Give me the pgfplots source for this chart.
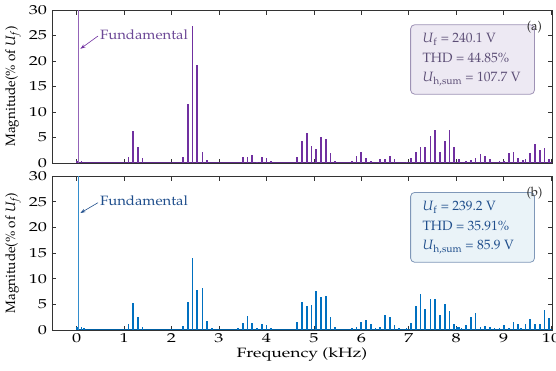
\documentclass[border=0pt]{standalone}
\usepackage[T1]{fontenc}
\usepackage{mathpazo}
\usepackage{pgfplots}
\usepackage{pgfplotstable}
\pgfplotsset{compat=1.18}
\usetikzlibrary{arrows.meta}
\definecolor{pur}{RGB}{112,48,160}
\definecolor{purtxt}{RGB}{108,72,150}
\definecolor{purbox}{RGB}{92,78,118}
\definecolor{purfill}{RGB}{237,233,243}
\definecolor{purdraw}{RGB}{158,146,181}
\definecolor{blu}{RGB}{0,112,192}
\definecolor{blutxt}{RGB}{31,78,140}
\definecolor{blufill}{RGB}{234,243,248}
\definecolor{bludraw}{RGB}{127,151,184}

\pgfplotstableread{
f v
0.00 0.4
0.10 0.3
1.09 1.1
1.19 6.2
1.29 3.2
1.39 0.9
2.24 1.2
2.34 11.6
2.44 26.9
2.54 19.3
2.65 2.2
2.75 0.6
3.50 1.1
3.60 1.1
3.70 1.6
3.80 0.2
3.90 1.2
4.00 1.0
4.10 0.3
4.65 1.1
4.75 4.25
4.85 5.8
4.95 3.35
5.05 2.65
5.15 5.15
5.25 4.75
5.35 1.95
5.45 0.4
5.80 0.4
5.90 1.4
6.00 2.1
6.10 1.05
6.20 0.4
6.40 0.8
6.50 0.7
6.60 1.4
6.70 0.7
6.95 0.2
7.05 1.0
7.15 2.2
7.25 3.1
7.35 3.1
7.46 5.3
7.56 6.5
7.66 2.2
7.76 4.25
7.86 6.5
7.96 3.1
8.06 0.7
8.21 0.3
8.31 0.6
8.41 1.05
8.51 1.75
8.61 1.4
8.71 0.7
8.91 0.4
9.01 0.4
9.11 1.9
9.21 2.1
9.31 1.0
9.41 0.5
9.46 0.7
9.56 2.0
9.66 3.7
9.76 2.55
9.86 2.9
9.96 0.7
}\topdata

\pgfplotstableread{
f v
0.00 0.5
0.10 0.5
0.15 0.3
1.09 1.1
1.19 5.3
1.29 2.6
1.39 0.65
2.24 0.7
2.34 5.4
2.44 14.0
2.54 7.7
2.65 8.1
2.75 1.8
2.85 0.3
3.40 0.3
3.50 1.35
3.60 2.65
3.70 1.35
3.80 0.3
3.90 1.15
4.00 1.0
4.10 0.3
4.65 1.55
4.75 5.45
4.85 4.7
4.95 4.9
5.05 7.6
5.15 6.5
5.25 6.6
5.35 2.6
5.45 0.65
5.80 0.3
5.90 0.5
6.00 1.55
6.10 1.9
6.20 1.1
6.30 0.3
6.40 0.6
6.50 2.9
6.60 2.5
6.70 1.0
6.80 0.3
6.95 0.3
7.05 1.3
7.15 4.75
7.25 7.0
7.35 4.1
7.46 6.0
7.56 6.0
7.66 2.9
7.76 5.1
7.86 3.65
7.96 1.1
8.01 0.6
8.06 0.5
8.11 0.4
8.21 0.9
8.31 2.5
8.41 3.3
8.51 0.5
8.61 0.8
8.71 0.65
8.81 0.4
8.91 0.4
9.01 0.9
9.11 0.4
9.21 1.5
9.31 1.1
9.36 0.45
9.46 1.2
9.56 2.1
9.66 1.1
9.76 1.1
9.86 3.9
9.96 2.35
}\botdata

\pgfplotsset{
  myaxis/.style={
    scale only axis, width=500pt,
    xmin=-0.52, xmax=10.02, ymin=0, ymax=30,
    xtick={0,1,...,10}, ytick={0,5,...,30},
    tick align=inside, major tick length=4.5pt,
    axis line style={line width=0.9pt, black!80},
    every tick/.style={black!80, line width=0.7pt},
    tick label style={font=\fontsize{13}{15}\selectfont, xscale=1.4},
    label style={font=\fontsize{13.5}{16}\selectfont},
    ylabel={Magnitude(\% of \textit{U}\textsubscript{\textit{f}})},
    clip=true,
  }
}

\begin{document}
\begin{tikzpicture}
\path[use as bounding box] (-52pt,10pt) rectangle (504pt,-360pt);
\begin{axis}[myaxis, at={(0,0)}, anchor=north west, height=153pt, xticklabels={}]
\addplot[pur!85!black, line width=1.1pt] coordinates {(0,0.12) (10.02,0.12)};
\addplot[ycomb, pur, line width=1.7pt] table[x=f,y=v] {\topdata};
\addplot[ycomb, pur!75, line width=1.4pt] coordinates {(0.04,100)};
\draw[pur, line width=0.6pt, -{Stealth[length=5pt,width=3.5pt]}] (axis cs:0.45,24.9) -- (axis cs:0.08,22.4);
\node[anchor=west, text=purtxt, inner sep=0pt, font=\fontsize{13.5}{16}\selectfont, xscale=1.1] at (axis cs:0.49,25.2) {Fundamental};
\draw[draw=purdraw, fill=purfill, rounded corners=4pt, line width=0.8pt] (axis cs:7.04,27.1) rectangle (axis cs:9.65,13.5);
\node[anchor=west, align=left, inner sep=0pt, text=purbox, font=\fontsize{13.5}{19.5}\selectfont] at (axis cs:7.29,20.2)
  {\textit{U}\textsubscript{f} = 240.1 V\\THD = 44.85\%\\\textit{U}\textsubscript{h,sum} = 107.7 V};
\node[text=black!80, inner sep=0pt, font=\fontsize{13}{15}\selectfont] at (axis cs:9.65,26.7) {(a)};
\end{axis}
\begin{axis}[myaxis, at={(0,-166pt)}, anchor=north west, height=154pt,
  xlabel={Frequency (kHz)}, xlabel style={xscale=1.3, yshift=2pt}]
\addplot[blu!85!black, line width=1.1pt] coordinates {(0,0.12) (10.02,0.12)};
\addplot[ycomb, blu, line width=1.7pt] table[x=f,y=v] {\botdata};
\addplot[ycomb, blu!80, line width=1.4pt] coordinates {(0.04,100)};
\draw[blutxt, line width=0.6pt, -{Stealth[length=5pt,width=3.5pt]}] (axis cs:0.45,24.8) -- (axis cs:0.08,22.8);
\node[anchor=west, text=blutxt, inner sep=0pt, font=\fontsize{13.5}{16}\selectfont, xscale=1.1] at (axis cs:0.49,25.2) {Fundamental};
\draw[draw=bludraw, fill=blufill, rounded corners=4pt, line width=0.8pt] (axis cs:7.04,26.8) rectangle (axis cs:9.65,13.2);
\node[anchor=west, align=left, inner sep=0pt, text=blutxt, font=\fontsize{13.5}{19.5}\selectfont] at (axis cs:7.29,19.9)
  {\textit{U}\textsubscript{f} = 239.2 V\\THD = 35.91\%\\\textit{U}\textsubscript{h,sum} = 85.9 V};
\node[text=black!80, inner sep=0pt, font=\fontsize{13}{15}\selectfont] at (axis cs:9.65,26.7) {(b)};
\end{axis}
\end{tikzpicture}
\end{document}
